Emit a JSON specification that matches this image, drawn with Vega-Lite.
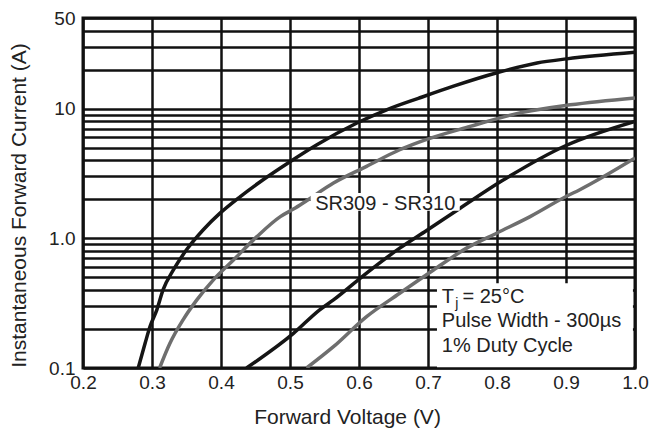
{
  "$schema": "https://vega.github.io/schema/vega-lite/v6.json",
  "width": 552,
  "height": 350,
  "autosize": {"type": "none"},
  "padding": {"left": 83, "top": 18, "right": 14, "bottom": 64},
  "background": "white",
  "config": {
    "font": "Liberation Sans",
    "view": {"stroke": "#111", "strokeWidth": 3},
    "axis": {
      "domain": false,
      "ticks": false,
      "gridColor": "#111",
      "gridWidth": 2.5,
      "gridOpacity": 1,
      "labelColor": "#222",
      "labelFontSize": 19,
      "titleFontSize": 21,
      "titleFontWeight": "normal",
      "titleColor": "#222"
    }
  },
  "datasets": {
    "curves": [
      {"s": "A", "v": 0.280, "i": 0.1},
      {"s": "A", "v": 0.290, "i": 0.155},
      {"s": "A", "v": 0.297, "i": 0.208},
      {"s": "A", "v": 0.307, "i": 0.281},
      {"s": "A", "v": 0.316, "i": 0.40},
      {"s": "A", "v": 0.331, "i": 0.57},
      {"s": "A", "v": 0.350, "i": 0.815},
      {"s": "A", "v": 0.374, "i": 1.16},
      {"s": "A", "v": 0.399, "i": 1.57},
      {"s": "A", "v": 0.428, "i": 2.10},
      {"s": "A", "v": 0.461, "i": 2.83},
      {"s": "A", "v": 0.500, "i": 3.9},
      {"s": "A", "v": 0.539, "i": 5.27},
      {"s": "A", "v": 0.597, "i": 7.75},
      {"s": "A", "v": 0.640, "i": 9.8},
      {"s": "A", "v": 0.686, "i": 12.0},
      {"s": "A", "v": 0.737, "i": 14.9},
      {"s": "A", "v": 0.800, "i": 18.9},
      {"s": "A", "v": 0.858, "i": 22.5},
      {"s": "A", "v": 0.901, "i": 24.2},
      {"s": "A", "v": 1.000, "i": 27.2},
      {"s": "B", "v": 0.311, "i": 0.1},
      {"s": "B", "v": 0.326, "i": 0.155},
      {"s": "B", "v": 0.345, "i": 0.235},
      {"s": "B", "v": 0.365, "i": 0.335},
      {"s": "B", "v": 0.389, "i": 0.478},
      {"s": "B", "v": 0.418, "i": 0.68},
      {"s": "B", "v": 0.452, "i": 1.03},
      {"s": "B", "v": 0.486, "i": 1.47},
      {"s": "B", "v": 0.505, "i": 1.68},
      {"s": "B", "v": 0.524, "i": 1.95},
      {"s": "B", "v": 0.563, "i": 2.67},
      {"s": "B", "v": 0.611, "i": 3.59},
      {"s": "B", "v": 0.659, "i": 4.82},
      {"s": "B", "v": 0.686, "i": 5.5},
      {"s": "B", "v": 0.761, "i": 7.3},
      {"s": "B", "v": 0.833, "i": 9.27},
      {"s": "B", "v": 0.906, "i": 10.7},
      {"s": "B", "v": 1.000, "i": 12.1},
      {"s": "C", "v": 0.437, "i": 0.1},
      {"s": "C", "v": 0.505, "i": 0.185},
      {"s": "C", "v": 0.543, "i": 0.281},
      {"s": "C", "v": 0.563, "i": 0.335},
      {"s": "C", "v": 0.611, "i": 0.54},
      {"s": "C", "v": 0.659, "i": 0.84},
      {"s": "C", "v": 0.698, "i": 1.15},
      {"s": "C", "v": 0.746, "i": 1.70},
      {"s": "C", "v": 0.806, "i": 2.75},
      {"s": "C", "v": 0.900, "i": 5.2},
      {"s": "C", "v": 1.000, "i": 7.98},
      {"s": "D", "v": 0.524, "i": 0.1},
      {"s": "D", "v": 0.563, "i": 0.146},
      {"s": "D", "v": 0.611, "i": 0.249},
      {"s": "D", "v": 0.659, "i": 0.377},
      {"s": "D", "v": 0.708, "i": 0.57},
      {"s": "D", "v": 0.756, "i": 0.84},
      {"s": "D", "v": 0.800, "i": 1.1},
      {"s": "D", "v": 0.848, "i": 1.47},
      {"s": "D", "v": 0.900, "i": 2.1},
      {"s": "D", "v": 0.920, "i": 2.37},
      {"s": "D", "v": 1.000, "i": 4.16}
    ],
    "boxes": [
      {"v": 0.713, "v2": 0.997, "i": 0.1015, "i2": 0.45},
      {"v": 0.530, "v2": 0.746, "i": 1.63, "i2": 2.24}
    ],
    "series_label": [
      {"v": 0.638, "i": 1.66, "label": "SR309 - SR310"}
    ],
    "texts": [
      {"v": 0.72, "i": 0.318, "label": "T"},
      {"v": 0.75, "i": 0.318, "label": "= 25°C"},
      {"v": 0.72, "i": 0.207, "label": "Pulse Width - 300µs"},
      {"v": 0.72, "i": 0.133, "label": "1% Duty Cycle"}
    ],
    "subs": [
      {"v": 0.7395, "i": 0.29, "label": "j"}
    ]
  },
  "layer": [
    {
      "data": {"name": "curves"},
      "mark": {"type": "line", "strokeWidth": 3.5, "interpolate": "monotone", "clip": true},
      "encoding": {
        "x": {
          "field": "v", "type": "quantitative",
          "scale": {"domain": [0.2, 1.0], "nice": false, "zero": false},
          "axis": {
            "values": [0.2, 0.3, 0.4, 0.5, 0.6, 0.7, 0.8, 0.9, 1.0],
            "format": ".1f",
            "labelPadding": 5,
            "labelFlush": false,
            "title": "Forward Voltage (V)",
            "titleX": 264,
            "titleY": 55,
            "titleAlign": "center",
            "titleBaseline": "alphabetic"
          }
        },
        "y": {
          "field": "i", "type": "quantitative",
          "scale": {"type": "log", "domain": [0.1, 50], "nice": false},
          "axis": {
            "values": [0.1, 0.2, 0.3, 0.4, 0.5, 0.6, 0.7, 0.8, 0.9, 1, 2, 3, 4, 5, 6, 7, 8, 9, 10, 20, 30, 40, 50],
            "labelExpr": "datum.value == 0.1 ? '0.1' : datum.value == 1 ? '1.0' : datum.value == 10 ? '10' : datum.value == 50 ? '50' : ''",
            "labelPadding": 8,
            "labelFlush": false,
            "labelOverlap": false,
            "title": "Instantaneous Forward Current (A)",
            "titleX": -58,
            "titleY": 187,
            "titleAngle": 270,
            "titleAlign": "center",
            "titleBaseline": "alphabetic"
          }
        },
        "color": {
          "field": "s", "type": "nominal",
          "scale": {"domain": ["A", "B", "C", "D"], "range": ["#151515", "#6e6e6e", "#151515", "#6e6e6e"]},
          "legend": null
        }
      }
    },
    {
      "data": {"name": "boxes"},
      "mark": {"type": "rect", "fill": "white"},
      "encoding": {
        "x": {"field": "v", "type": "quantitative"},
        "x2": {"field": "v2"},
        "y": {"field": "i", "type": "quantitative"},
        "y2": {"field": "i2"}
      }
    },
    {
      "data": {"name": "series_label"},
      "mark": {"type": "text", "fontSize": 20, "align": "center", "baseline": "alphabetic", "color": "#222"},
      "encoding": {
        "x": {"field": "v", "type": "quantitative"},
        "y": {"field": "i", "type": "quantitative"},
        "text": {"field": "label"}
      }
    },
    {
      "data": {"name": "texts"},
      "mark": {"type": "text", "fontSize": 20, "align": "left", "baseline": "alphabetic", "color": "#222"},
      "encoding": {
        "x": {"field": "v", "type": "quantitative"},
        "y": {"field": "i", "type": "quantitative"},
        "text": {"field": "label"}
      }
    },
    {
      "data": {"name": "subs"},
      "mark": {"type": "text", "fontSize": 14, "align": "left", "baseline": "alphabetic", "color": "#222"},
      "encoding": {
        "x": {"field": "v", "type": "quantitative"},
        "y": {"field": "i", "type": "quantitative"},
        "text": {"field": "label"}
      }
    }
  ]
}
